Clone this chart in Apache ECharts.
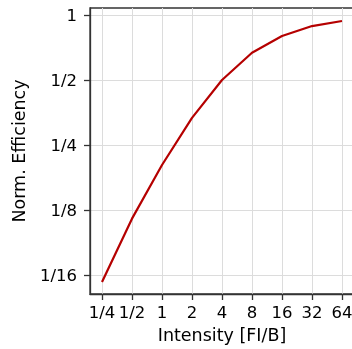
<!DOCTYPE html>
<html>
<head>
<meta charset="utf-8">
<style>html,body{margin:0;padding:0;background:#fff}#c{width:352px;height:349px}</style>
<script src="https://cdn.jsdelivr.net/npm/echarts@6/dist/echarts.min.js"></script>
</head>
<body>
<div id="c"></div>
<script>
const intensity = [0.25, 0.5, 1, 2, 4, 8, 16, 32, 64];
const efficiency = [0.058, 0.114, 0.202, 0.334, 0.5, 0.669, 0.80, 0.889, 0.938];
const xTickValues = [0.25, 0.5, 1, 2, 4, 8, 16, 32, 64];
const xTickLabels = ['1/4', '1/2', '1', '2', '4', '8', '16', '32', '64'];
const yTickValues = [0.0625, 0.125, 0.25, 0.5, 1];
const yTickLabels = ['1/16', '1/8', '1/4', '1/2', '1'];

function labelFor(vals, labels) {
  return function (v) {
    let best = 0, bd = Infinity;
    for (let i = 0; i < vals.length; i++) {
      const d = Math.abs(Math.log2(v) - Math.log2(vals[i]));
      if (d < bd) { bd = d; best = i; }
    }
    return bd < 0.01 ? labels[best] : '';
  };
}

const font = 'DejaVu Sans';
const chart = echarts.init(document.getElementById('c'), null, {renderer: 'canvas'});
chart.setOption({
  animation: false,
  grid: {
    left: 90, top: 8, width: 264, height: 286,
    outerBoundsMode: 'none', containLabel: false,
    show: true, borderColor: '#333', borderWidth: 1.3, backgroundColor: 'transparent'
  },
  xAxis: {
    type: 'log', logBase: 2,
    min: Math.pow(2, -2.4), max: Math.pow(2, 6.4),
    name: 'Intensity [FI/B]', nameLocation: 'middle', nameGap: 33,
    nameTextStyle: {fontFamily: font, fontSize: 17.5, color: '#000'},
    axisLine: {show: true, lineStyle: {color: '#333', width: 1.3}},
    axisTick: {show: true, length: 6, lineStyle: {color: '#333', width: 1.3}, customValues: xTickValues},
    axisLabel: {fontFamily: font, fontSize: 16.5, color: '#000', margin: 11,
      customValues: xTickValues, formatter: labelFor(xTickValues, xTickLabels)},
    splitLine: {show: true, lineStyle: {color: '#dcdcdc', width: 1}},
    minorTick: {show: false}, minorSplitLine: {show: false}
  },
  yAxis: {
    type: 'log', logBase: 2,
    min: Math.pow(2, -4.292), max: Math.pow(2, 0.108),
    name: 'Norm. Efficiency', nameLocation: 'middle', nameGap: 55, nameRotate: 90,
    nameTextStyle: {fontFamily: font, fontSize: 17.5, color: '#000'},
    axisLine: {show: true, lineStyle: {color: '#333', width: 1.3}},
    axisTick: {show: true, length: 6, lineStyle: {color: '#333', width: 1.3}, customValues: yTickValues},
    axisLabel: {fontFamily: font, fontSize: 16.5, color: '#000', margin: 13,
      verticalAlign: 'top', lineHeight: 4,
      customValues: yTickValues, formatter: labelFor(yTickValues, yTickLabels)},
    splitLine: {show: true, lineStyle: {color: '#dcdcdc', width: 1}},
    minorTick: {show: false}, minorSplitLine: {show: false}
  },
  series: [{
    type: 'line',
    data: intensity.map((x, i) => [x, efficiency[i]]),
    showSymbol: false, symbol: 'none',
    lineStyle: {color: '#b50000', width: 2.2},
    itemStyle: {color: '#b50000'}
  }]
});
</script>
</body>
</html>
